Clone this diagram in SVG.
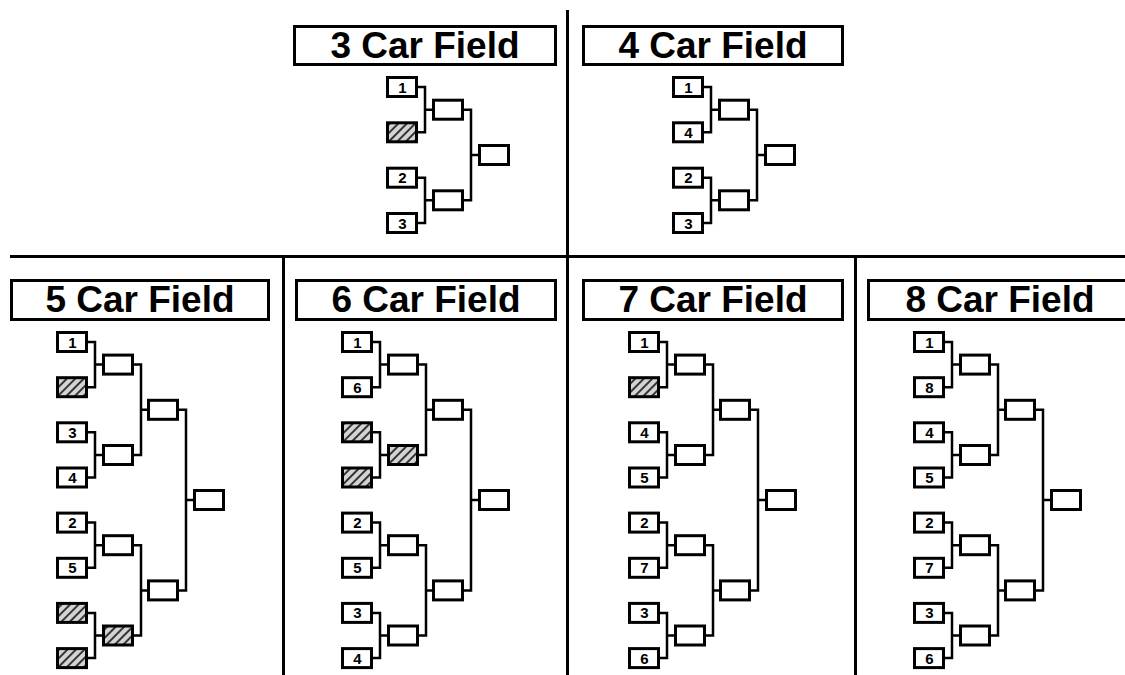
<svg xmlns="http://www.w3.org/2000/svg" width="1125" height="675" viewBox="0 0 1125 675">
<style>
.b{fill:#fff;stroke:#000;stroke-width:3}
.h{fill:url(#hatch);stroke:#000;stroke-width:3}
.c{fill:none;stroke:#000;stroke-width:2.5}
.d{fill:none;stroke:#000;stroke-width:3}
.tb{fill:#fff;stroke:#000;stroke-width:3}
.t{font-family:"Liberation Sans",Arial,sans-serif;font-weight:bold;font-size:37px;text-anchor:middle;fill:#000}
.n{font-family:"Liberation Sans",Arial,sans-serif;font-weight:bold;font-size:15px;text-anchor:middle;fill:#000}
</style>
<defs>
<pattern id="hatch" patternUnits="userSpaceOnUse" width="6" height="6" patternTransform="rotate(45)">
<rect width="6" height="6" fill="#d4d4d4"/>
<line x1="3" y1="0" x2="3" y2="6" stroke="#222" stroke-width="1.8"/>
</pattern>
</defs>
<rect width="1125" height="675" fill="#fff"/>
<g id="dividers">
<path class="d" d="M567.5 10 V675"/>
<path class="d" d="M10 256.5 H1125"/>
<path class="d" d="M283.5 256.5 V675"/>
<path class="d" d="M855.5 256.5 V675"/>
</g>
<g id="connectors">
<!-- 3 car -->
<path class="c" d="M418 87 H425 V132.3 H418 M425 109.7 H432"/>
<path class="c" d="M418 177.7 H425 V223 H418 M425 200.3 H432"/>
<path class="c" d="M464 109.7 H471 V200.3 H464 M471 155 H478"/>
<!-- 4 car -->
<path class="c" d="M704 87 H711 V132.3 H704 M711 109.7 H718"/>
<path class="c" d="M704 177.7 H711 V223 H704 M711 200.3 H718"/>
<path class="c" d="M750 109.7 H757 V200.3 H750 M757 155 H764"/>
<!-- 5 car -->
<path class="c" d="M88 342 H95 V387.2 H88 M95 364.6 H102"/>
<path class="c" d="M88 432.3 H95 V477.5 H88 M95 455 H102"/>
<path class="c" d="M88 522.6 H95 V567.8 H88 M95 545.2 H102"/>
<path class="c" d="M88 612.9 H95 V658.1 H88 M95 635.5 H102"/>
<path class="c" d="M134 364.6 H141 V455 H134 M141 409.8 H147"/>
<path class="c" d="M134 545.2 H141 V635.5 H134 M141 590.4 H147"/>
<path class="c" d="M179 409.8 H186 V590.4 H179 M186 500 H193"/>
<!-- 6 car -->
<path class="c" d="M373 342 H380 V387.2 H373 M380 364.6 H387"/>
<path class="c" d="M373 432.3 H380 V477.5 H373 M380 455 H387"/>
<path class="c" d="M373 522.6 H380 V567.8 H373 M380 545.2 H387"/>
<path class="c" d="M373 612.9 H380 V658.1 H373 M380 635.5 H387"/>
<path class="c" d="M419 364.6 H426 V455 H419 M426 409.8 H432"/>
<path class="c" d="M419 545.2 H426 V635.5 H419 M426 590.4 H432"/>
<path class="c" d="M464 409.8 H471 V590.4 H464 M471 500 H478"/>
<!-- 7 car -->
<path class="c" d="M660 342 H667 V387.2 H660 M667 364.6 H674"/>
<path class="c" d="M660 432.3 H667 V477.5 H660 M667 455 H674"/>
<path class="c" d="M660 522.6 H667 V567.8 H660 M667 545.2 H674"/>
<path class="c" d="M660 612.9 H667 V658.1 H660 M667 635.5 H674"/>
<path class="c" d="M706 364.6 H713 V455 H706 M713 409.8 H719"/>
<path class="c" d="M706 545.2 H713 V635.5 H706 M713 590.4 H719"/>
<path class="c" d="M751 409.8 H758 V590.4 H751 M758 500 H765"/>
<!-- 8 car -->
<path class="c" d="M945 342 H952 V387.2 H945 M952 364.6 H959"/>
<path class="c" d="M945 432.3 H952 V477.5 H945 M952 455 H959"/>
<path class="c" d="M945 522.6 H952 V567.8 H945 M952 545.2 H959"/>
<path class="c" d="M945 612.9 H952 V658.1 H945 M952 635.5 H959"/>
<path class="c" d="M991 364.6 H998 V455 H991 M998 409.8 H1004"/>
<path class="c" d="M991 545.2 H998 V635.5 H991 M998 590.4 H1004"/>
<path class="c" d="M1036 409.8 H1043 V590.4 H1036 M1043 500 H1050"/>
</g>

<!-- 3 Car Field -->
<g id="f3">
<g id="f3-title"><rect class="tb" x="294.5" y="26.5" width="261" height="38"/><text class="t" x="425" y="58">3 Car Field</text></g>
<g id="f3-s1"><rect class="b" x="387.5" y="77.5" width="29" height="19"/><text class="n" x="402.5" y="92.5">1</text></g>
<g id="f3-s2"><rect class="h" x="387.5" y="122.8" width="29" height="19"/></g>
<g id="f3-s3"><rect class="b" x="387.5" y="168.2" width="29" height="19"/><text class="n" x="402.5" y="183.2">2</text></g>
<g id="f3-s4"><rect class="b" x="387.5" y="213.5" width="29" height="19"/><text class="n" x="402.5" y="228.5">3</text></g>
<g id="f3-r1"><rect class="b" x="433.5" y="100.2" width="29" height="19"/></g>
<g id="f3-r2"><rect class="b" x="433.5" y="190.8" width="29" height="19"/></g>
<g id="f3-final"><rect class="b" x="479.5" y="145.5" width="29" height="19"/></g>
</g>

<!-- 4 Car Field -->
<g id="f4">
<g id="f4-title"><rect class="tb" x="583.5" y="26.5" width="259" height="38"/><text class="t" x="713" y="58">4 Car Field</text></g>
<g id="f4-s1"><rect class="b" x="673.5" y="77.5" width="29" height="19"/><text class="n" x="688.5" y="92.5">1</text></g>
<g id="f4-s2"><rect class="b" x="673.5" y="122.8" width="29" height="19"/><text class="n" x="688.5" y="137.8">4</text></g>
<g id="f4-s3"><rect class="b" x="673.5" y="168.2" width="29" height="19"/><text class="n" x="688.5" y="183.2">2</text></g>
<g id="f4-s4"><rect class="b" x="673.5" y="213.5" width="29" height="19"/><text class="n" x="688.5" y="228.5">3</text></g>
<g id="f4-r1"><rect class="b" x="719.5" y="100.2" width="29" height="19"/></g>
<g id="f4-r2"><rect class="b" x="719.5" y="190.8" width="29" height="19"/></g>
<g id="f4-final"><rect class="b" x="765.5" y="145.5" width="29" height="19"/></g>
</g>

<!-- 5 Car Field -->
<g id="f5">
<g id="f5-title"><rect class="tb" x="11.5" y="280.5" width="257" height="39"/><text class="t" x="140" y="312">5 Car Field</text></g>
<g id="f5-s1"><rect class="b" x="57.5" y="332.5" width="29" height="19"/><text class="n" x="72.5" y="347.5">1</text></g>
<g id="f5-s2"><rect class="h" x="57.5" y="377.7" width="29" height="19"/></g>
<g id="f5-s3"><rect class="b" x="57.5" y="422.8" width="29" height="19"/><text class="n" x="72.5" y="437.8">3</text></g>
<g id="f5-s4"><rect class="b" x="57.5" y="468" width="29" height="19"/><text class="n" x="72.5" y="483">4</text></g>
<g id="f5-s5"><rect class="b" x="57.5" y="513.1" width="29" height="19"/><text class="n" x="72.5" y="528.1">2</text></g>
<g id="f5-s6"><rect class="b" x="57.5" y="558.3" width="29" height="19"/><text class="n" x="72.5" y="573.3">5</text></g>
<g id="f5-s7"><rect class="h" x="57.5" y="603.4" width="29" height="19"/></g>
<g id="f5-s8"><rect class="h" x="57.5" y="648.6" width="29" height="19"/></g>
<g id="f5-q1"><rect class="b" x="103.5" y="355.1" width="29" height="19"/></g>
<g id="f5-q2"><rect class="b" x="103.5" y="445.5" width="29" height="19"/></g>
<g id="f5-q3"><rect class="b" x="103.5" y="535.7" width="29" height="19"/></g>
<g id="f5-q4"><rect class="h" x="103.5" y="626" width="29" height="19"/></g>
<g id="f5-sf1"><rect class="b" x="148.5" y="400.3" width="29" height="19"/></g>
<g id="f5-sf2"><rect class="b" x="148.5" y="580.9" width="29" height="19"/></g>
<g id="f5-final"><rect class="b" x="194.5" y="490.5" width="29" height="19"/></g>
</g>

<!-- 6 Car Field -->
<g id="f6">
<g id="f6-title"><rect class="tb" x="296.5" y="280.5" width="259" height="39"/><text class="t" x="426" y="312">6 Car Field</text></g>
<g id="f6-s1"><rect class="b" x="342.5" y="332.5" width="29" height="19"/><text class="n" x="357.5" y="347.5">1</text></g>
<g id="f6-s2"><rect class="b" x="342.5" y="377.7" width="29" height="19"/><text class="n" x="357.5" y="392.7">6</text></g>
<g id="f6-s3"><rect class="h" x="342.5" y="422.8" width="29" height="19"/></g>
<g id="f6-s4"><rect class="h" x="342.5" y="468" width="29" height="19"/></g>
<g id="f6-s5"><rect class="b" x="342.5" y="513.1" width="29" height="19"/><text class="n" x="357.5" y="528.1">2</text></g>
<g id="f6-s6"><rect class="b" x="342.5" y="558.3" width="29" height="19"/><text class="n" x="357.5" y="573.3">5</text></g>
<g id="f6-s7"><rect class="b" x="342.5" y="603.4" width="29" height="19"/><text class="n" x="357.5" y="618.4">3</text></g>
<g id="f6-s8"><rect class="b" x="342.5" y="648.6" width="29" height="19"/><text class="n" x="357.5" y="663.6">4</text></g>
<g id="f6-q1"><rect class="b" x="388.5" y="355.1" width="29" height="19"/></g>
<g id="f6-q2"><rect class="h" x="388.5" y="445.5" width="29" height="19"/></g>
<g id="f6-q3"><rect class="b" x="388.5" y="535.7" width="29" height="19"/></g>
<g id="f6-q4"><rect class="b" x="388.5" y="626" width="29" height="19"/></g>
<g id="f6-sf1"><rect class="b" x="433.5" y="400.3" width="29" height="19"/></g>
<g id="f6-sf2"><rect class="b" x="433.5" y="580.9" width="29" height="19"/></g>
<g id="f6-final"><rect class="b" x="479.5" y="490.5" width="29" height="19"/></g>
</g>

<!-- 7 Car Field -->
<g id="f7">
<g id="f7-title"><rect class="tb" x="583.5" y="280.5" width="259" height="39"/><text class="t" x="713" y="312">7 Car Field</text></g>
<g id="f7-s1"><rect class="b" x="629.5" y="332.5" width="29" height="19"/><text class="n" x="644.5" y="347.5">1</text></g>
<g id="f7-s2"><rect class="h" x="629.5" y="377.7" width="29" height="19"/></g>
<g id="f7-s3"><rect class="b" x="629.5" y="422.8" width="29" height="19"/><text class="n" x="644.5" y="437.8">4</text></g>
<g id="f7-s4"><rect class="b" x="629.5" y="468" width="29" height="19"/><text class="n" x="644.5" y="483">5</text></g>
<g id="f7-s5"><rect class="b" x="629.5" y="513.1" width="29" height="19"/><text class="n" x="644.5" y="528.1">2</text></g>
<g id="f7-s6"><rect class="b" x="629.5" y="558.3" width="29" height="19"/><text class="n" x="644.5" y="573.3">7</text></g>
<g id="f7-s7"><rect class="b" x="629.5" y="603.4" width="29" height="19"/><text class="n" x="644.5" y="618.4">3</text></g>
<g id="f7-s8"><rect class="b" x="629.5" y="648.6" width="29" height="19"/><text class="n" x="644.5" y="663.6">6</text></g>
<g id="f7-q1"><rect class="b" x="675.5" y="355.1" width="29" height="19"/></g>
<g id="f7-q2"><rect class="b" x="675.5" y="445.5" width="29" height="19"/></g>
<g id="f7-q3"><rect class="b" x="675.5" y="535.7" width="29" height="19"/></g>
<g id="f7-q4"><rect class="b" x="675.5" y="626" width="29" height="19"/></g>
<g id="f7-sf1"><rect class="b" x="720.5" y="400.3" width="29" height="19"/></g>
<g id="f7-sf2"><rect class="b" x="720.5" y="580.9" width="29" height="19"/></g>
<g id="f7-final"><rect class="b" x="766.5" y="490.5" width="29" height="19"/></g>
</g>

<!-- 8 Car Field -->
<g id="f8">
<g id="f8-title"><rect class="tb" x="868.5" y="280.5" width="263" height="39"/><text class="t" x="1000" y="312">8 Car Field</text></g>
<g id="f8-s1"><rect class="b" x="914.5" y="332.5" width="29" height="19"/><text class="n" x="929.5" y="347.5">1</text></g>
<g id="f8-s2"><rect class="b" x="914.5" y="377.7" width="29" height="19"/><text class="n" x="929.5" y="392.7">8</text></g>
<g id="f8-s3"><rect class="b" x="914.5" y="422.8" width="29" height="19"/><text class="n" x="929.5" y="437.8">4</text></g>
<g id="f8-s4"><rect class="b" x="914.5" y="468" width="29" height="19"/><text class="n" x="929.5" y="483">5</text></g>
<g id="f8-s5"><rect class="b" x="914.5" y="513.1" width="29" height="19"/><text class="n" x="929.5" y="528.1">2</text></g>
<g id="f8-s6"><rect class="b" x="914.5" y="558.3" width="29" height="19"/><text class="n" x="929.5" y="573.3">7</text></g>
<g id="f8-s7"><rect class="b" x="914.5" y="603.4" width="29" height="19"/><text class="n" x="929.5" y="618.4">3</text></g>
<g id="f8-s8"><rect class="b" x="914.5" y="648.6" width="29" height="19"/><text class="n" x="929.5" y="663.6">6</text></g>
<g id="f8-q1"><rect class="b" x="960.5" y="355.1" width="29" height="19"/></g>
<g id="f8-q2"><rect class="b" x="960.5" y="445.5" width="29" height="19"/></g>
<g id="f8-q3"><rect class="b" x="960.5" y="535.7" width="29" height="19"/></g>
<g id="f8-q4"><rect class="b" x="960.5" y="626" width="29" height="19"/></g>
<g id="f8-sf1"><rect class="b" x="1005.5" y="400.3" width="29" height="19"/></g>
<g id="f8-sf2"><rect class="b" x="1005.5" y="580.9" width="29" height="19"/></g>
<g id="f8-final"><rect class="b" x="1051.5" y="490.5" width="29" height="19"/></g>
</g>
</svg>
